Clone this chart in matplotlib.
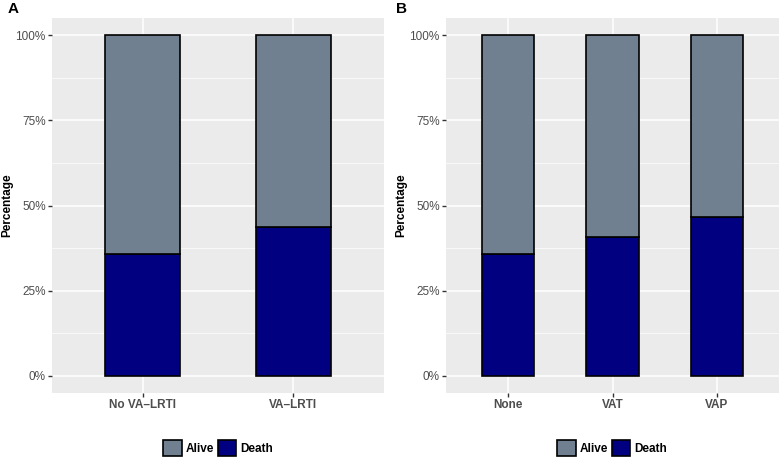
import numpy as np
import matplotlib.pyplot as plt
from matplotlib.patches import Patch

plt.rcParams['font.family'] = ['Liberation Sans', 'DejaVu Sans']

# Panel A data
groups_a = ['No VA\u2013LRTI', 'VA\u2013LRTI']
death_a = [0.359, 0.438]

# Panel B data
groups_b = ['None', 'VAT', 'VAP']
death_b = [0.359, 0.408, 0.465]

alive_color = '#708090'
death_color = '#000080'
bg = '#EBEBEB'


def draw_panel(fig, ax, groups, death, legend_x):
    x = np.arange(1, len(groups) + 1)
    death = np.array(death)
    alive = 1 - death
    ax.set_facecolor(bg)
    ax.bar(x, death, width=0.5, color=death_color, edgecolor='black', linewidth=1.2, zorder=3)
    ax.bar(x, alive, bottom=death, width=0.5, color=alive_color, edgecolor='black', linewidth=1.2, zorder=3)
    ax.set_xlim(0.4, len(groups) + 0.6)
    ax.set_ylim(-0.05, 1.05)
    ax.set_xticks(x)
    ax.set_xticklabels(groups, fontsize=8.5, fontweight='bold', color='#4D4D4D')
    ax.set_yticks([0, 0.25, 0.5, 0.75, 1.0])
    ax.set_yticklabels(['0%', '25%', '50%', '75%', '100%'], fontsize=8.5, color='#4D4D4D')
    ax.set_yticks([0.125, 0.375, 0.625, 0.875], minor=True)
    ax.grid(True, which='major', color='white', linewidth=1.1, zorder=0)
    ax.grid(True, which='minor', axis='y', color='white', linewidth=0.5, zorder=0)
    ax.tick_params(which='major', length=3, width=1, color='#333333', pad=1.5)
    ax.tick_params(which='minor', length=0)
    for s in ax.spines.values():
        s.set_visible(False)
    ax.set_ylabel('Percentage', fontsize=8.5, fontweight='bold')
    ax.yaxis.set_label_coords(-0.117, 0.5)
    handles = [Patch(facecolor=alive_color, edgecolor='black', linewidth=1.2, label='Alive'),
               Patch(facecolor=death_color, edgecolor='black', linewidth=1.2, label='Death')]
    ax.legend(handles=handles, loc='center', bbox_to_anchor=(legend_x, 1 - 448 / 459),
              bbox_transform=fig.transFigure, ncol=2, frameon=False,
              prop={'size': 8.5, 'weight': 'bold'}, borderpad=0.2,
              handlelength=1.6, handleheight=1.6, handletextpad=0.3, columnspacing=0.3)


fig = plt.figure(figsize=(7.8, 4.59), dpi=100)
ax_a = fig.add_axes([52 / 780, 66 / 459, 332 / 780, 375 / 459])
ax_b = fig.add_axes([446 / 780, 66 / 459, 333 / 780, 375 / 459])
draw_panel(fig, ax_a, groups_a, death_a, 218 / 780)
draw_panel(fig, ax_b, groups_b, death_b, 612 / 780)

fig.text(8 / 780, 1 - 9 / 459, 'A', fontsize=11, fontweight='bold', va='center', ha='left')
fig.text(396 / 780, 1 - 9 / 459, 'B', fontsize=11, fontweight='bold', va='center', ha='left')

fig.savefig('out.png', dpi=100)
